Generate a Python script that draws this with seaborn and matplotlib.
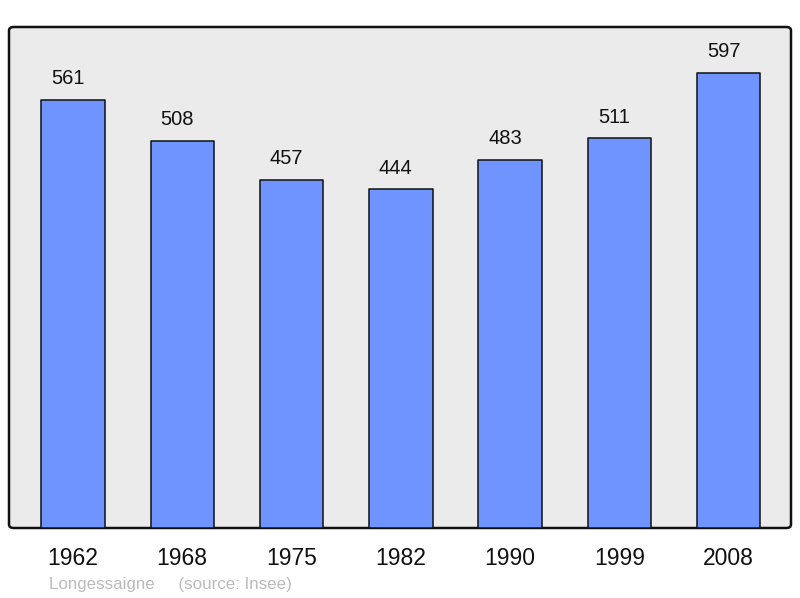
import matplotlib
matplotlib.use("Agg")
import matplotlib.pyplot as plt
import seaborn as sns
import pandas as pd
from matplotlib.patches import FancyBboxPatch

years = ["1962", "1968", "1975", "1982", "1990", "1999", "2008"]
population = [561, 508, 457, 444, 483, 511, 597]
commune = "Longessaigne"
source = "(source: Insee)"

sns.set_theme(style="white")
plt.rcParams["font.family"] = ["Liberation Sans", "DejaVu Sans"]

df = pd.DataFrame({"year": years, "pop": population})

W, H = 800, 598
fig = plt.figure(figsize=(W / 100, H / 100), dpi=100)
ax_l, ax_r, ax_t, ax_b = 9, 791, 27, 528
ax = fig.add_axes([ax_l / W, (H - ax_b) / H, (ax_r - ax_l) / W, (ax_b - ax_t) / H])
ax.set_facecolor("none")
ax.set_zorder(2)

# rounded frame with grey fill, behind the axes
frame = FancyBboxPatch((ax_l / W, (H - ax_b) / H), (ax_r - ax_l) / W, (ax_b - ax_t) / H,
                       boxstyle="round,pad=0,rounding_size=0.006",
                       transform=fig.transFigure, facecolor="#ebebeb",
                       edgecolor="#111111", linewidth=1.8, zorder=1)
fig.patches.append(frame)

sns.barplot(data=df, x="year", y="pop", color="#7094ff", width=0.58,
            edgecolor="#111111", linewidth=1.1, saturation=1, ax=ax)
for p in ax.patches:
    p.set_joinstyle("round")

for i, v in enumerate(population):
    ax.annotate(str(v), (i, v), xytext=(-3.6, 8.5), textcoords="offset points",
                ha="center", va="bottom", fontsize=14.5, color="#111111")

ax.set_xlim(-0.585, 6.57)
ax.set_ylim(0, 657)
ax.set_yticks([])
ax.set_xlabel("")
ax.set_ylabel("")
ax.tick_params(axis="x", length=0, labelsize=16.5, pad=13.5, colors="#111111")
for s in ax.spines.values():
    s.set_visible(False)

fig.text(49 / W, 1 - 584 / H, commune + "     " + source, fontsize=12.2,
         color="#bbbbbb", va="center", ha="left")

fig.savefig("out.png", dpi=100)
